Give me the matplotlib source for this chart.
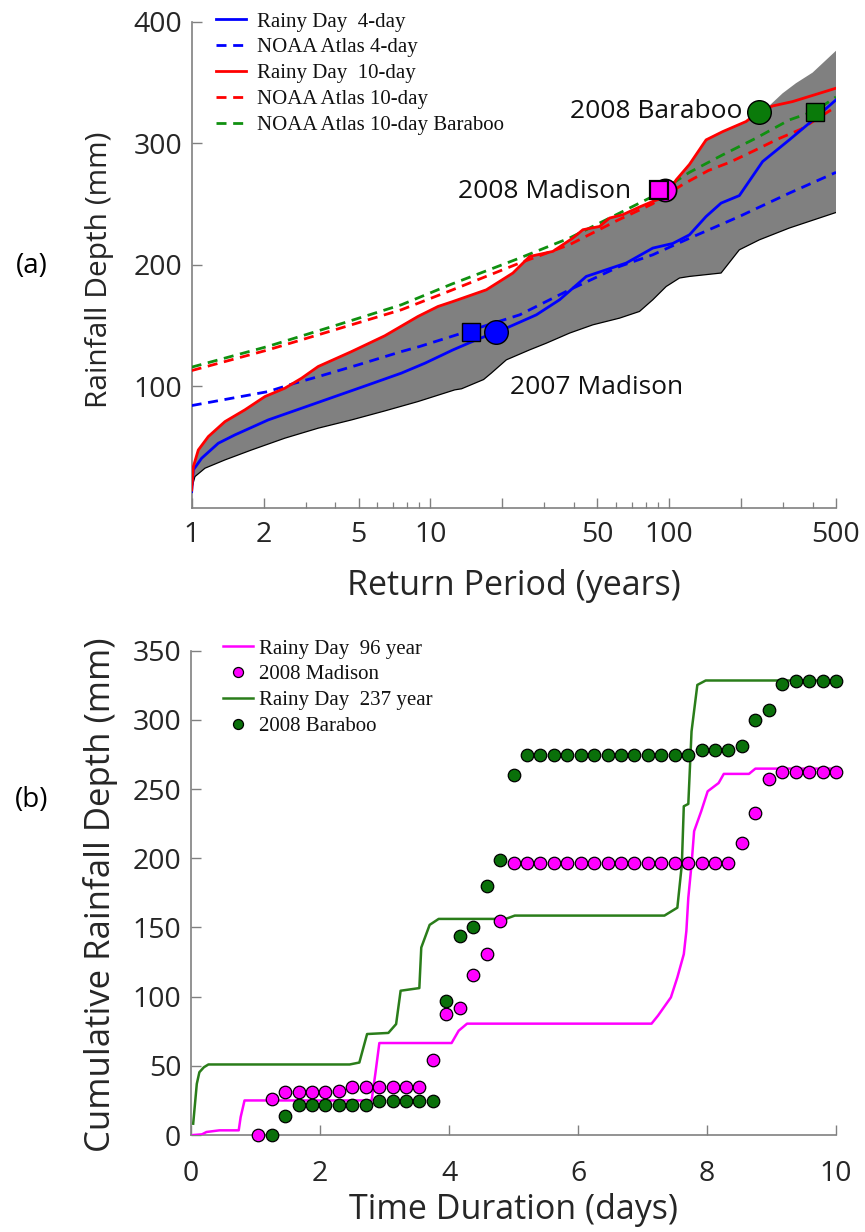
import numpy as np
import matplotlib
matplotlib.use("Agg")
import matplotlib.pyplot as plt
from matplotlib.ticker import FixedLocator, NullFormatter, FixedFormatter

# ---------------- Panel (a) data: return period (years) vs depth (mm) ----------------
rd10_T = [1.0, 1.016, 1.066, 1.174, 1.378, 1.671, 2.026, 2.457, 2.886, 3.386, 4.672, 6.44,
          8.87, 10.76, 12.43, 17.15, 22.16, 26.03, 32.58, 39.51, 43.51, 51.09, 56.26, 63.96,
          75.12, 85.38, 97.13, 107, 121.6, 142.8, 167.6, 210, 235, 271.4, 329, 500]
rd10_V = [14.8, 34, 47.7, 58.7, 71, 80.7, 91.6, 98.5, 106.7, 116.3, 128.6, 141.6,
          157.5, 165.7, 169.8, 179.4, 193.2, 206.8, 211, 222, 228.8, 231.5, 238.4, 241.2,
          247.5, 252.1, 256, 269.8, 282.5, 302.7, 309.5, 317.8, 325, 330.6, 334.2, 345.2]

rd4_T = [1.0, 1.016, 1.101, 1.292, 1.518, 2.092, 2.886, 3.977, 5.483, 7.56, 9.5, 12.43,
         15.58, 20.8, 27.77, 34.75, 44.96, 54.5, 66.1, 85.38, 103.5, 121.6, 142.8, 165,
         196.8, 246.4, 318.6, 386, 500]
rd4_V = [13.4, 31.3, 40.9, 53.2, 60.1, 72.4, 82, 91.6, 101.2, 110.9, 119.1, 130,
         138.3, 147.9, 158.8, 171.2, 190.4, 195.9, 201.4, 213.7, 217.5, 224.6, 239.7, 250.7,
         256.9, 284.9, 302.7, 316.4, 335.6]

noaa4_T = [1.0, 2.09, 2.7, 3.39, 4.98, 7.56, 9.02, 12.24, 23.64, 38.27, 61.96, 85.38,
           117.8, 196.8, 318.6, 500]
noaa4_V = [84.2, 95.7, 102.6, 108, 117.7, 128.6, 132.8, 141, 158.8, 179.4, 198.6, 208.2,
           220.6, 239.7, 258.9, 276]

noaa10_T = [1.0, 2.09, 3.98, 7.56, 12.24, 23.64, 38.27, 60, 85, 114, 146, 180, 227.5,
            284.8, 356.6, 500]
noaa10_V = [113, 130, 146.5, 163, 179, 201.4, 216.5, 236, 250, 266, 277.5, 284.4, 293.9,
            303.3, 311.5, 330]

noaa10b_T = [1.0, 2.09, 3.98, 7.56, 12.24, 23.64, 38.27, 61.96, 85.38, 121.6, 167.6, 231,
             318.6, 409, 500]
noaa10b_V = [115.8, 132.9, 149.9, 167.1, 184, 205.5, 222, 242.5, 256.2, 276, 290.4, 304.1,
             319.1, 326.5, 338]

band_lo_T = [1.0, 1.032, 1.137, 1.378, 1.782, 2.457, 3.386, 4.672, 6.44, 8.87, 12.64, 13.5,
             16.7, 17.99, 20.8, 26.03, 30.58, 38.27, 47.9, 61.96, 75.12, 85.38, 97.13, 110.5,
             121.6, 165, 196.8, 238.7, 318.6, 500]
band_lo_V = [16, 25.8, 32.7, 39.5, 47.7, 57.4, 65.6, 72.4, 79.8, 87.5, 97.1, 98,
             105.6, 110.9, 121.8, 130, 135.5, 143.8, 150.6, 156.1, 161.6, 171.2, 182.1, 189.1,
             190.4, 193.2, 212.3, 220.5, 230.2, 243]
band_hi_T = rd10_T[:33] + [258.6, 298.7, 339.8, 398.8, 500]
band_hi_V = rd10_V[:33] + [329.5, 341, 349.3, 358, 376]

ev_blue_T = [14.8, 18.9]      # 2007 Madison: NOAA (square), Rainy Day (circle)
ev_blue_V = [145, 144.6]
ev_mad_T = [90.5, 96]         # 2008 Madison
ev_mad_V = [261.7, 261.7]
ev_bar_T = [409, 237]         # 2008 Baraboo
ev_bar_V = [325.5, 325.3]

# ---------------- Panel (b) data: time (days) vs cumulative depth (mm) ----------------
mad_t = [1.042, 1.25, 1.458, 1.667, 1.875, 2.083, 2.292, 2.5, 2.708, 2.917, 3.125, 3.333,
         3.542, 3.75, 3.958, 4.167, 4.375, 4.583, 4.792, 5.0, 5.208, 5.417, 5.625, 5.833,
         6.042, 6.25, 6.458, 6.667, 6.875, 7.083, 7.292, 7.5, 7.708, 7.917, 8.125, 8.333,
         8.542, 8.75, 8.958, 9.167, 9.375, 9.583, 9.792, 10.0]
mad_v = [0, 26, 31, 31, 31, 31, 32, 35, 35, 35, 35, 35,
         35, 54.5, 87.5, 92, 116, 131, 155, 196.5, 196.5, 196.5, 196.5, 196.5,
         196.5, 196.5, 196.5, 196.5, 196.5, 196.5, 196.5, 196.5, 196.5, 196.5, 196.5, 196.5,
         210.7, 232.8, 257.3, 262.6, 262.6, 262.6, 262.6, 262.6]

bar_t = [1.25, 1.458, 1.667, 1.875, 2.083, 2.292, 2.5, 2.708, 2.917, 3.125, 3.333,
         3.542, 3.75, 3.958, 4.167, 4.375, 4.583, 4.792, 5.0, 5.208, 5.417, 5.625, 5.833,
         6.042, 6.25, 6.458, 6.667, 6.875, 7.083, 7.292, 7.5, 7.708, 7.917, 8.125, 8.333,
         8.542, 8.75, 8.958, 9.167, 9.375, 9.583, 9.792, 10.0]
bar_v = [0, 13.7, 22, 22, 22, 22, 22, 22, 24.5, 24.5, 24.5,
         24.5, 24.5, 97, 144, 150.4, 180, 199, 260.5, 275, 275, 275, 275,
         275, 275, 275, 275, 275, 275, 275, 275, 275, 278.5, 278.5, 278.5,
         281, 300, 307, 326, 328, 328, 328, 328]

rd96_t = [0.034, 0.17, 0.24, 0.44, 0.74, 0.77, 0.83, 2.80, 2.86, 2.92, 4.04, 4.15, 4.28,
          7.14, 7.24, 7.44, 7.54, 7.64, 7.68, 7.71, 7.76, 7.80, 7.91, 8.01, 8.18, 8.26,
          8.65, 8.75, 10.0]
rd96_v = [0, 0.5, 2.2, 3.4, 3.4, 13, 25, 25, 45, 66.5, 66.5, 75.4, 80.5,
          80.5, 86.3, 99.5, 113.9, 130.7, 147.5, 171.5, 195.6, 219.6, 234, 248.4, 254.4, 261,
          261, 264.8, 264.8]

rd237_t = [0.034, 0.09, 0.13, 0.2, 0.27, 2.46, 2.61, 2.66, 2.73, 3.06, 3.18, 3.25, 3.54,
           3.57, 3.70, 3.84, 4.88, 5.02, 7.34, 7.54, 7.61, 7.64, 7.71, 7.76, 7.85, 7.98, 10.0]
rd237_v = [8.2, 37, 45.4, 49, 51, 51, 52.4, 61, 73, 73.8, 80.2, 104.3, 106.2,
           135.5, 151.9, 156.2, 156.2, 158.6, 158.6, 164.3, 195.6, 237.6, 239.3, 291.7, 325.3,
           328.5, 328.5]

# ---------------- styling ----------------
SANS = ["Open Sans", "DejaVu Sans"]
SERIF = ["Liberation Serif", "DejaVu Serif"]
TXT = "#262626"
SPINE = "#808080"
DASH = (0, (3.6, 2.4))

fig = plt.figure(figsize=(8.65, 12.32), dpi=100)
axA = fig.add_axes([0.2216, 0.5877, 0.7449, 0.3948])
axB = fig.add_axes([0.2208, 0.0787, 0.7457, 0.3931])


def style(ax, xpad):
    for s in ("top", "right"):
        ax.spines[s].set_visible(False)
    for s in ("left", "bottom"):
        ax.spines[s].set_color(SPINE)
        ax.spines[s].set_linewidth(1.2)
    ax.tick_params(which="major", direction="in", length=7, width=1.0, color=SPINE,
                   labelcolor=TXT, labelsize=20.5)
    ax.tick_params(which="minor", direction="in", length=4, width=0.9, color=SPINE)
    ax.tick_params(axis="y", which="major", pad=7)
    ax.tick_params(axis="x", which="major", pad=xpad)
    for lab in ax.get_xticklabels() + ax.get_yticklabels():
        lab.set_family(SANS)


# ---------------- Panel (a) ----------------
axA.set_xscale("log")
poly_T = band_hi_T + band_lo_T[::-1]
poly_V = band_hi_V + band_lo_V[::-1]
axA.fill(poly_T, poly_V, facecolor="#808080", edgecolor="none", zorder=1)
axA.plot(band_lo_T, band_lo_V, color="black", lw=0.9, zorder=2)

l1, = axA.plot(rd4_T, rd4_V, color="#0000ff", lw=2.0, zorder=4, label="Rainy Day  4-day")
l2, = axA.plot(noaa4_T, noaa4_V, color="#0000ff", lw=2.0, ls=DASH, zorder=3,
               label="NOAA Atlas 4-day")
l3, = axA.plot(rd10_T, rd10_V, color="#ff0000", lw=2.0, zorder=4, label="Rainy Day  10-day")
l4, = axA.plot(noaa10_T, noaa10_V, color="#ff0000", lw=2.0, ls=DASH, zorder=3,
               label="NOAA Atlas 10-day")
l5, = axA.plot(noaa10b_T, noaa10b_V, color="#109010", lw=2.0, ls=DASH, zorder=3,
               label="NOAA Atlas 10-day Baraboo")

axA.plot(ev_blue_T[0], ev_blue_V[0], "s", ms=13, mfc="#0000ff", mec="black", mew=1.0, zorder=6)
axA.plot(ev_blue_T[1], ev_blue_V[1], "o", ms=17, mfc="#0000ff", mec="black", mew=1.0, zorder=6)
axA.plot(ev_mad_T[1], ev_mad_V[1], "o", ms=16, mfc="#ff00ff", mec="black", mew=1.2, zorder=6)
axA.plot(ev_mad_T[0], ev_mad_V[0], "s", ms=12.5, mfc="#ff00ff", mec="black", mew=1.6, zorder=7)
axA.plot(ev_bar_T[1], ev_bar_V[1], "o", ms=17, mfc="#0a7a0a", mec="black", mew=1.0, zorder=6)
axA.plot(ev_bar_T[0], ev_bar_V[0], "s", ms=13, mfc="#0a7a0a", mec="black", mew=1.0, zorder=6)

axA.text(202, 326, "2008 Baraboo", ha="right", va="center", fontsize=19,
         family=SANS, color="#111111", zorder=8)
axA.text(69, 260.5, "2008 Madison", ha="right", va="center", fontsize=19,
         family=SANS, color="#111111", zorder=8)
axA.text(21.6, 99, "2007 Madison", ha="left", va="center", fontsize=19,
         family=SANS, color="#111111", zorder=8)

axA.set_xlim(1, 500)
axA.set_ylim(0, 400)
axA.xaxis.set_major_locator(FixedLocator([1, 2, 5, 10, 20, 50, 100, 200, 500]))
axA.xaxis.set_major_formatter(FixedFormatter(["1", "2", "5", "10", "", "50", "100", "", "500"]))
axA.xaxis.set_minor_locator(FixedLocator([3, 4, 6, 7, 8, 9, 30, 40, 60, 70, 80, 90, 300, 400]))
axA.xaxis.set_minor_formatter(NullFormatter())
axA.set_yticks([100, 200, 300, 400])
style(axA, xpad=9.5)
axA.set_xlabel("Return Period (years)", fontsize=24.5, family=SANS, color=TXT)
axA.set_ylabel("Rainfall Depth (mm)", fontsize=21.5, family=SANS, color=TXT)
axA.xaxis.set_label_coords(0.5003, -0.1595)
axA.xaxis.label.set_va("center")
axA.yaxis.set_label_coords(-0.1423, 0.49)
axA.yaxis.label.set_va("center")

legA = axA.legend(handles=[l1, l2, l3, l4, l5], loc="upper left",
                  bbox_to_anchor=(216 / 865, 1 - 12 / 1232), bbox_transform=fig.transFigure,
                  frameon=False, borderpad=0, borderaxespad=0, handlelength=1.45,
                  handletextpad=0.5, labelspacing=0.3,
                  prop={"family": SERIF, "size": 15})
for t in legA.get_texts():
    t.set_color("#111111")

# ---------------- Panel (b) ----------------
p1, = axB.plot(rd96_t, rd96_v, color="#ff00ff", lw=1.8, zorder=3, label="Rainy Day  96 year")
p3, = axB.plot(rd237_t, rd237_v, color="#2a7d1a", lw=1.8, zorder=3, label="Rainy Day  237 year")
p2, = axB.plot(mad_t, mad_v, "o", ls="none", ms=9, mfc="#ff00ff", mec="black", mew=0.9,
               zorder=5, clip_on=False, label="2008 Madison")
p4, = axB.plot(bar_t, bar_v, "o", ls="none", ms=9, mfc="#0a700a", mec="black", mew=0.9,
               zorder=6, clip_on=False, label="2008 Baraboo")

axB.set_xlim(0, 10)
axB.set_ylim(0, 350)
axB.set_xticks([0, 2, 4, 6, 8, 10])
axB.set_yticks([0, 50, 100, 150, 200, 250, 300, 350])
style(axB, xpad=18)
axB.set_xlabel("Time Duration (days)", fontsize=24.5, family=SANS, color=TXT)
axB.set_ylabel("Cumulative Rainfall Depth (mm)", fontsize=25, family=SANS, color=TXT)
axB.xaxis.set_label_coords(0.4997, -0.1549)
axB.xaxis.label.set_va("center")
axB.yaxis.set_label_coords(-0.141, 0.496)
axB.yaxis.label.set_va("center")

legB = axB.legend(handles=[p1, p2, p3, p4], loc="upper left",
                  bbox_to_anchor=(223 / 865, 1 - 639 / 1232), bbox_transform=fig.transFigure,
                  frameon=False, borderpad=0, borderaxespad=0, handlelength=1.45,
                  handletextpad=0.3, labelspacing=0.3, markerscale=0.8,
                  prop={"family": SERIF, "size": 15})
for t in legB.get_texts():
    t.set_color("#111111")

fig.text(0.037, 1 - 266 / 1232, "(a)", fontsize=20, family=SANS, color="black",
         ha="center", va="center")
fig.text(0.037, 1 - 800 / 1232, "(b)", fontsize=20, family=SANS, color="black",
         ha="center", va="center")

fig.savefig("out.png", dpi=100)
